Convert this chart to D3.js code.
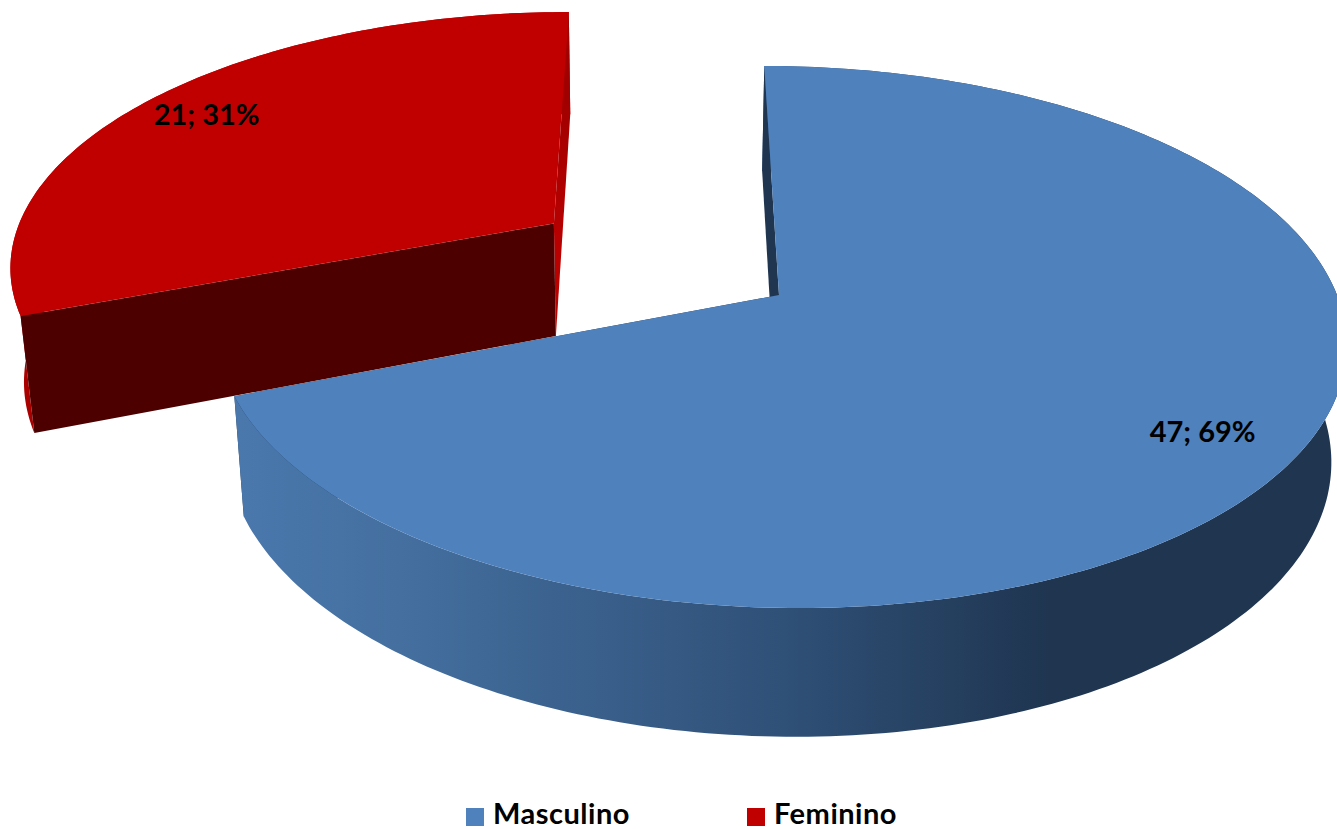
<!DOCTYPE html>
<html><head><meta charset="utf-8">
<script src="https://cdn.jsdelivr.net/npm/d3@7"></script>
<style>html,body{margin:0;padding:0;background:#fff;overflow:hidden}svg{display:block}text{font-family:Lato,Carlito,Calibri,sans-serif;font-weight:700;fill:#000}</style>
</head><body><div id="c"></div>
<script>
const categories = ["Masculino", "Feminino"];
const values = [47, 21];
const explode = [0, 0.5];
const topColors = ["#4f81bd", "#c00000"];

const W = 1337, H = 829;
// Perspective camera for the tilted pie
const cam = {x0: 779, y0: 295, a: 558, b: 264.5, s: 17, p: 0.155, alpha: -2.84, c: 118.5, d: 0.022};
function project(x, y, z) {
  const w = 1 - cam.p * y + cam.d * z;
  return [cam.x0 + (cam.a * x + cam.s * y + cam.alpha * z) / w,
          cam.y0 + (cam.b * y + cam.c * z) / w];
}
const total = d3.sum(values);
const arcs = d3.pie().sort(null).startAngle(0).endAngle(2 * Math.PI)(values);
const line = d3.line();
const svg = d3.select("#c").append("svg").attr("width", W).attr("height", H).attr("viewBox", [0, 0, W, H]);
const defs = svg.append("defs");

const grad = defs.append("linearGradient").attr("id", "wall")
  .attr("gradientUnits", "userSpaceOnUse").attr("x1", 235).attr("x2", 1337).attr("y1", 0).attr("y2", 0);
[[0, "#4a78ad"], [0.15, "#446f9f"], [0.5, "#2f5077"], [0.74, "#1f3550"], [1, "#1f3550"]]
  .forEach(([o, c]) => grad.append("stop").attr("offset", o).attr("stop-color", c));
const grad2 = defs.append("linearGradient").attr("id", "femFace")
  .attr("gradientUnits", "userSpaceOnUse").attr("x1", 0).attr("x2", 0).attr("y1", 90).attr("y2", 260);
[[0, "#a00000"], [1, "#bb0000"]]
  .forEach(([o, c]) => grad2.append("stop").attr("offset", o).attr("stop-color", c));

const wallFill = ["url(#wall)", "#ab0000"];
const startFaceFill = ["#1f3550", "#4d0000"];
const endFaceFill = ["#1f3550", "url(#femFace)"];

function slice(i) {
  const d = arcs[i], mid = (d.startAngle + d.endAngle) / 2, e = explode[i];
  const ox = e * Math.sin(mid), oy = -e * Math.cos(mid);
  const pt = (ang, r, z) => project(ox + r * Math.sin(ang), oy - r * Math.cos(ang), z);
  const n = Math.ceil((d.endAngle - d.startAngle) / (Math.PI / 180));
  const angs = d3.range(n + 1).map(k => d.startAngle + (d.endAngle - d.startAngle) * k / n);
  const g = svg.append("g").attr("class", "slice").attr("data-name", categories[i]);
  const top = angs.map(a => pt(a, 1, 0)), low = angs.map(a => pt(a, 1, 1));
  const apexT = pt(0, 0, 0), apexL = pt(0, 0, 1);
  const endFace = () => g.append("path").attr("d", line([top[n], low[n], apexL, apexT]) + "Z").attr("fill", endFaceFill[i]);
  const startFace = () => g.append("path").attr("d", line([top[0], low[0], apexL, apexT]) + "Z").attr("fill", startFaceFill[i]);
  const rim = () => g.append("path").attr("d", line(top.concat(low.slice().reverse())) + "Z").attr("fill", wallFill[i]);
  if (i === 0) { endFace(); rim(); startFace(); } else { rim(); endFace(); startFace(); }
  g.append("path").attr("d", line([apexT].concat(top)) + "Z").attr("fill", topColors[i]);
  return {mid, pt};
}
const parts = [];
parts[1] = slice(1);
parts[0] = slice(0);

const labelSize = 29;
arcs.forEach((d, i) => {
  const [lx, ly] = parts[i].pt(parts[i].mid, 0.85, 0);
  svg.append("text").attr("x", lx).attr("y", ly).attr("dx", i ? -5 : -8).attr("dy", "0.35em").attr("text-anchor", "middle")
    .attr("font-size", labelSize).text(`${values[i]}; ${Math.round(values[i] / total * 100)}%`);
});

const legendX = d3.scaleOrdinal().domain(categories).range([466, 747]);
const leg = svg.append("g").selectAll("g").data(categories).join("g")
  .attr("transform", c => `translate(${legendX(c)},808)`);
leg.append("rect").attr("width", 18).attr("height", 18).attr("fill", (c, i) => topColors[i]);
leg.append("text").attr("x", 27).attr("y", 15.5).attr("font-size", 29).attr("letter-spacing", 0.5).text(c => c);
</script></body></html>
